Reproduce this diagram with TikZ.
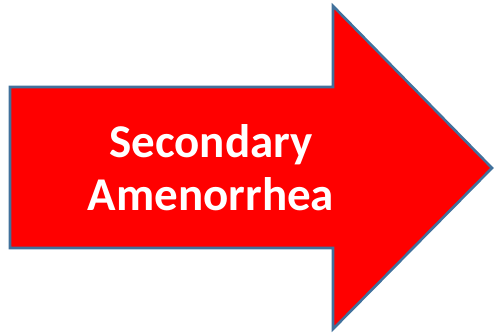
\documentclass[tikz,border=0pt]{standalone}
\usepackage{fontspec}
\setmainfont{Carlito}
\begin{document}
\begin{tikzpicture}[x=1pt,y=-1pt,
  arrowshape/.style={fill=red,draw={rgb,255:red,65;green,113;blue,156},line width=2.6pt,line join=miter},
  label/.style={text=white,font=\bfseries\fontsize{47}{53}\selectfont,align=center}]
\useasboundingbox (0,0) rectangle (495,333);
\draw[arrowshape] (10,87) -- (333,87) -- (333,6) -- (492,168) -- (333,329) -- (333,248) -- (10,248) -- cycle;
\node[label] (t) at (211,168) {Secondary\\Amenorrhea};
\end{tikzpicture}
\end{document}
